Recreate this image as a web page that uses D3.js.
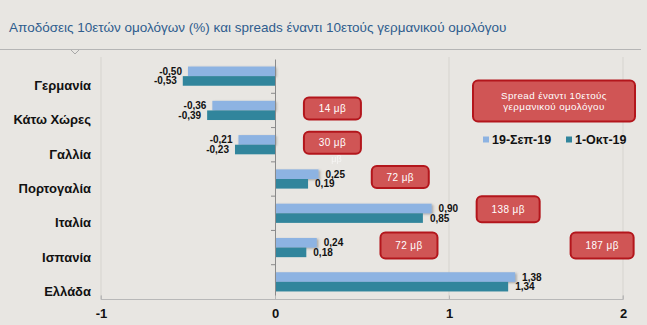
<!DOCTYPE html>
<html><head><meta charset="utf-8">
<script src="https://cdn.jsdelivr.net/npm/d3@7"></script>
<style>
html,body{margin:0;padding:0;background:#e8e6e2;}
svg{display:block;font-family:"Liberation Sans",Arial,sans-serif;}
</style></head>
<body>
<script>
const categories = ["Γερμανία","Κάτω Χώρες","Γαλλία","Πορτογαλία","Ιταλία","Ισπανία","Ελλάδα"];
const seriesNames = ["19-Σεπ-19","1-Οκτ-19"];
const sep19 = [-0.50,-0.36,-0.21,0.25,0.90,0.24,1.38];
const oct01 = [-0.53,-0.39,-0.23,0.19,0.85,0.18,1.34];
const xTicks = [-1,0,1,2];
const spreadTexts = ["14 μβ","30 μβ","72 μβ","138 μβ","72 μβ","187 μβ"];
const spreadRows = ["Κάτω Χώρες","Γαλλία","Πορτογαλία","Ιταλία","Ισπανία","Ισπανία"];
const spreadAnchorX = [0.33,0.33,0.72,1.34,0.77,1.88]; // annotation anchors, axis units
const titleText = "Αποδόσεις 10ετών ομολόγων (%) και spreads έναντι 10ετούς γερμανικού ομολόγου";
const spreadLegendLines = ["Spread έναντι 10ετούς","γερμανικού ομολόγου"];

const W=647,H=325;
const colors=["#8db3e2","#31859c"];
const svg=d3.select("body").append("svg").attr("width",W).attr("height",H);
svg.append("rect").attr("width",W).attr("height",H).attr("fill","#e8e6e2");

const defs=svg.append("defs");
const f=defs.append("filter").attr("id","sh").attr("x","-10%").attr("y","-20%").attr("width","130%").attr("height","150%");
f.append("feDropShadow").attr("dx",1.5).attr("dy",1).attr("stdDeviation",1).attr("flood-color","#555").attr("flood-opacity",0.45);

// title
svg.append("text").attr("x",9).attr("y",32).attr("fill","#2f5d8e").attr("font-size",13.5)
  .attr("font-family","'Liberation Sans',Arial,sans-serif").text(titleText);
svg.append("path").attr("d",`M0,49.5H${W-6}`).attr("stroke","#b5b5b5").attr("stroke-width",1).attr("fill","none");
svg.append("path").attr("d","M71,50L75,54L79,50").attr("stroke","#a8a8a8").attr("fill","#e8e6e2");

const x=d3.scaleLinear().domain([-1,2]).range([101,623]);
const y=d3.scaleBand().domain(categories).range([59,299]).padding(0);
const bh=9.6;
const cy=c=>y(c)+y.bandwidth()/2;

// gridlines
svg.append("g").selectAll("line").data(xTicks.filter(t=>t!==0)).join("line")
  .attr("x1",d=>x(d)).attr("x2",d=>x(d)).attr("y1",57).attr("y2",299.5)
  .attr("stroke","#d9d7d3").attr("stroke-width",1.2);

// bars
const series=[sep19,oct01];
series.forEach((vals,si)=>{
  const g=svg.append("g");
  g.selectAll("rect").data(vals).join("rect")
    .attr("x",d=>Math.min(x(0),x(d)))
    .attr("width",d=>Math.abs(x(d)-x(0)))
    .attr("y",(d,i)=>cy(categories[i])-bh+si*bh)
    .attr("height",bh)
    .attr("fill",colors[si])
    .attr("filter",si===0?"url(#sh)":null);
});
// value labels
const fmt=v=>d3.format(".2f")(v).replace("−","-").replace(".",",");
series.forEach((vals,si)=>{
  svg.append("g").selectAll("text").data(vals).join("text")
    .attr("x",d=>d<0?x(d)-6:x(d)+7)
    .attr("y",(d,i)=>cy(categories[i])-bh/2+si*bh)
    .attr("dy","0.35em")
    .attr("text-anchor",d=>d<0?"end":"start")
    .attr("font-size",10).attr("font-weight","bold").attr("fill","#111")
    .text(d=>fmt(d));
});

// zero axis (category axis)
const yAxis=d3.axisLeft(y).tickSize(0).tickFormat("");
const ya=svg.append("g").attr("transform",`translate(${x(0)},0)`).call(yAxis);
ya.select(".domain").attr("stroke","#8a8a8a");
svg.append("g").selectAll("line").data(categories.slice(1)).join("line")
  .attr("x1",x(0)-4).attr("x2",x(0)).attr("y1",d=>y(d)).attr("y2",d=>y(d)).attr("stroke","#8a8a8a");
// category labels
svg.append("g").selectAll("text").data(categories).join("text")
  .attr("x",91).attr("y",d=>cy(d)+9.5).attr("dy","0.35em").attr("text-anchor","end")
  .attr("font-size",13).attr("font-weight","bold").attr("fill","#111").text(d=>d);

// x axis
const xAxis=d3.axisBottom(x).tickValues(xTicks).tickSize(-4).tickPadding(9).tickFormat(d=>d3.format("d")(d).replace("−","-"));
const xa=svg.append("g").attr("transform","translate(0,299.5)").call(xAxis);
xa.select(".domain").attr("stroke","#b8b8b8").attr("d",`M${x(-1)},-4V0H${x(2)}V-4`);
xa.selectAll(".tick line").attr("stroke","#b8b8b8");
xa.selectAll(".tick text").attr("font-size",13).attr("font-weight","bold").attr("fill","#111")
  .attr("font-family","'Liberation Sans',Arial,sans-serif");

// spread boxes
function box(cxp,cyp,w,h,lines,fs){
  const g=svg.append("g");
  g.append("rect").attr("x",cxp-w/2).attr("y",cyp-h/2).attr("width",w).attr("height",h)
    .attr("rx",5).attr("fill","#d05555").attr("stroke","#b3161c").attr("stroke-width",2);
  lines.forEach((t,i)=>{
    g.append("text").attr("x",cxp).attr("y",cyp+(i-(lines.length-1)/2)*11.5).attr("dy","0.35em")
      .attr("text-anchor","middle").attr("fill","#fff").attr("font-size",fs).attr("letter-spacing",0.4).text(t);
  });
  return g;
}
spreadTexts.forEach((t,i)=>{
  const w=t.length>5?63:57;
  const h=i>=3?26:22;
  box(x(spreadAnchorX[i]),cy(spreadRows[i])-(i===3?4:2),w,h,[t],10);
});
// faint artifact under 30 μβ
svg.append("text").attr("x",x(spreadAnchorX[1])+4).attr("y",cy(spreadRows[1])+14).attr("dy","0.35em")
  .attr("text-anchor","middle").attr("fill","#fff").attr("opacity",0.6).attr("font-size",9).text("μβ");

// spread legend box
box(554,101,162,41,spreadLegendLines,9.8);

// legend
const lg=svg.append("g").attr("transform","translate(483,140)");
const li=lg.selectAll("g").data(seriesNames).join("g").attr("transform",(d,i)=>`translate(${i*83},0)`);
li.append("rect").attr("x",0).attr("y",-3.5).attr("width",6).attr("height",6).attr("fill",(d,i)=>colors[i]);
li.append("text").attr("x",9).attr("dy","0.35em").attr("font-size",12.5).attr("font-weight","bold").attr("fill","#111").text(d=>d);
</script>
</body></html>
